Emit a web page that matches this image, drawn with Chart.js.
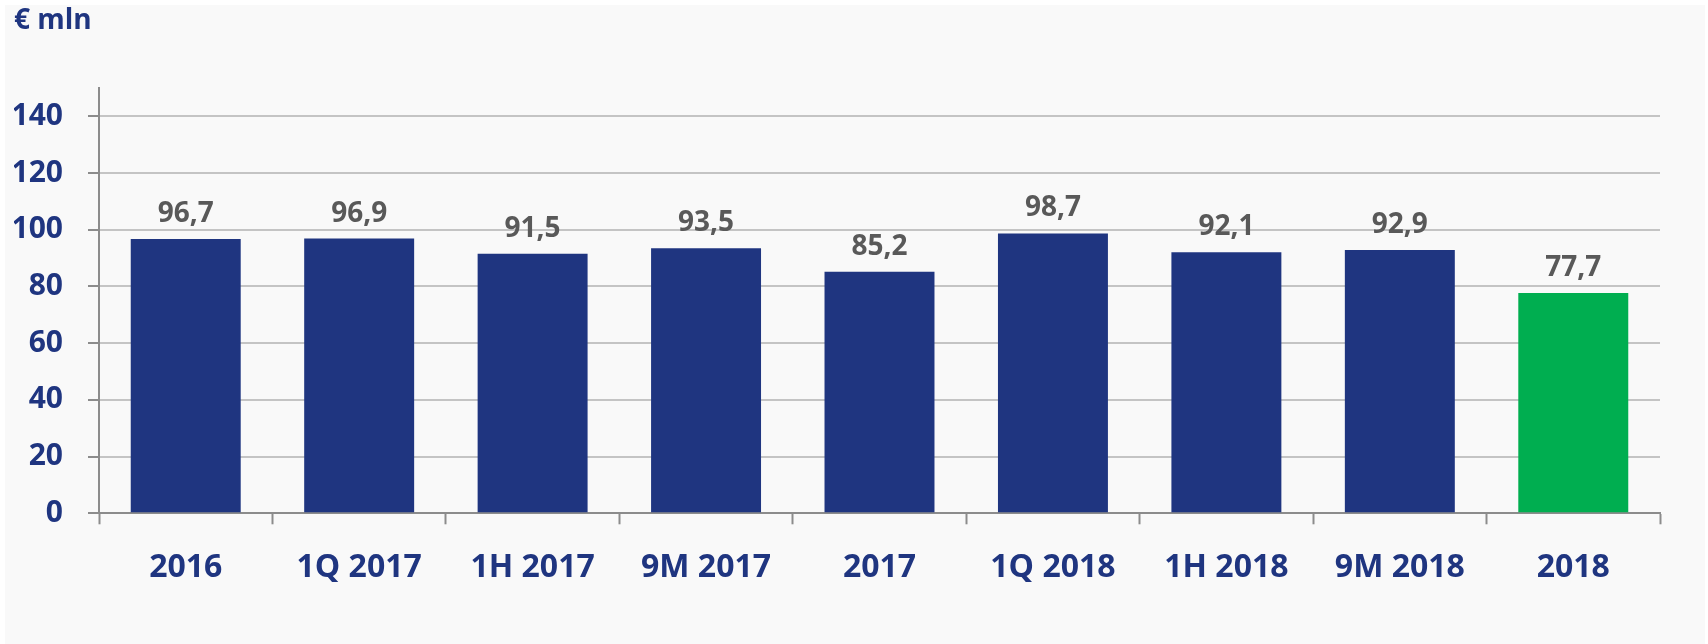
<!DOCTYPE html>
<html>
<head>
<meta charset="utf-8">
<script src="https://cdn.jsdelivr.net/npm/chart.js@4/dist/chart.umd.min.js"></script>
<style>
  html, body { margin: 0; padding: 0; background: #ffffff; }
  #wrap { position: relative; width: 1708px; height: 644px; }
  #panel { position: absolute; left: 5px; top: 5px; width: 1700px; height: 639px; background: #f9f9f9; }
  #chart { position: absolute; left: 0; top: 0; }
</style>
</head>
<body>
<div id="wrap">
  <div id="panel"></div>
  <canvas id="chart" width="1708" height="644"></canvas>
</div>
<script>
// ===== DATA =====
const categories = ['2016', '1Q 2017', '1H 2017', '9M 2017', '2017', '1Q 2018', '1H 2018', '9M 2018', '2018'];
const values = [96.7, 96.9, 91.5, 93.5, 85.2, 98.7, 92.1, 92.9, 77.7];
const yTicks = [0, 20, 40, 60, 80, 100, 120, 140];
const unitLabel = '€ mln';

const NAVY = '#1f3580';
const GREEN = '#00ae50';
const barColors = values.map((v, i) => i === values.length - 1 ? GREEN : NAVY);

const FONT = "'Open Sans', 'Liberation Sans', sans-serif";

// value labels above the bars, with a decimal comma
const valueLabels = {
  id: 'valueLabels',
  afterDatasetsDraw(chart) {
    const ctx = chart.ctx;
    const meta = chart.getDatasetMeta(0);
    ctx.save();
    ctx.font = 'bold 28px ' + FONT;
    ctx.fillStyle = '#595959';
    ctx.textAlign = 'center';
    ctx.textBaseline = 'middle';
    meta.data.forEach((bar, i) => {
      ctx.fillText(values[i].toFixed(1).replace('.', ','), bar.x, bar.y - 25);
    });
    ctx.restore();
  }
};

new Chart(document.getElementById('chart'), {
  type: 'bar',
  data: {
    labels: categories,
    datasets: [{
      data: values,
      backgroundColor: barColors,
      borderWidth: 0,
      categoryPercentage: 0.634,
      barPercentage: 1
    }]
  },
  options: {
    responsive: false,
    animation: false,
    layout: { padding: { left: 14, right: 48, top: 4, bottom: 0 } },
    plugins: {
      legend: { display: false },
      tooltip: { enabled: false },
      title: {
        display: true,
        text: unitLabel,
        align: 'start',
        color: NAVY,
        font: { family: FONT, size: 28, weight: 'bold' },
        padding: { top: 0, bottom: 50.4 }
      }
    },
    scales: {
      x: {
        grid: {
          drawOnChartArea: false,
          drawTicks: true,
          tickLength: 11,
          tickColor: '#8c8c8c',
          tickWidth: 2
        },
        border: { color: '#8c8c8c', width: 2 },
        ticks: {
          color: NAVY,
          font: { family: FONT, size: 32, weight: 'bold' },
          padding: 24,
          maxRotation: 0
        },
        afterFit(scale) { scale.height = 130.7; }
      },
      y: {
        min: 0,
        max: 150,
        afterBuildTicks(scale) { scale.ticks = yTicks.map(v => ({ value: v })); },
        grid: {
          color: '#c4c4c4',
          lineWidth: 2,
          tickLength: 11,
          tickColor: '#8c8c8c',
          tickWidth: 2
        },
        border: { color: '#8c8c8c', width: 2 },
        ticks: {
          color: NAVY,
          font: { family: FONT, size: 30, weight: 'bold' },
          padding: 25
        },
        afterFit(scale) { scale.width = 85; }
      }
    }
  },
  plugins: [valueLabels]
});
</script>
</body>
</html>
